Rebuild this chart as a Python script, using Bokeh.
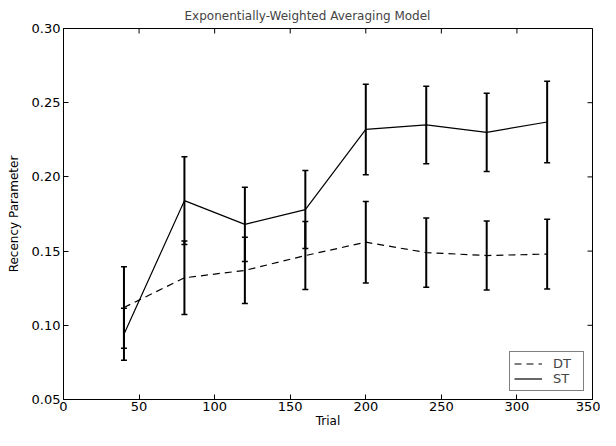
from bokeh.plotting import figure
from bokeh.models import (ColumnDataSource, Whisker, TeeHead, FixedTicker,
                          NumeralTickFormatter, Range1d, Legend, LegendItem)
from bokeh.embed import file_html
from bokeh.resources import INLINE
import math

trials = [40, 80, 120, 160, 200, 240, 280, 320]
dt_mean = [0.112, 0.132, 0.137, 0.147, 0.156, 0.149, 0.147, 0.148]
dt_err = [0.0275, 0.0248, 0.0223, 0.0229, 0.0275, 0.0233, 0.0232, 0.0235]
st_mean = [0.094, 0.184, 0.168, 0.178, 0.232, 0.235, 0.230, 0.237]
st_err = [0.0175, 0.0296, 0.025, 0.0263, 0.0305, 0.0261, 0.0263, 0.0275]
x_ticks = [0, 50, 100, 150, 200, 250, 300, 350]
y_ticks = [0.05, 0.10, 0.15, 0.20, 0.25, 0.30]
x_lim = (0, 350)
y_lim = (0.05, 0.30)

FONT = "DejaVu Sans"

dt_src = ColumnDataSource(dict(x=trials, y=dt_mean,
                               lo=[m - e for m, e in zip(dt_mean, dt_err)],
                               hi=[m + e for m, e in zip(dt_mean, dt_err)]))
st_src = ColumnDataSource(dict(x=trials, y=st_mean,
                               lo=[m - e for m, e in zip(st_mean, st_err)],
                               hi=[m + e for m, e in zip(st_mean, st_err)]))

p = figure(width=600, height=430, output_backend="svg", toolbar_location=None,
           x_range=Range1d(*x_lim), y_range=Range1d(*y_lim),
           min_border_left=63, min_border_right=8, min_border_top=28, min_border_bottom=0)

p.title.text = "Exponentially-Weighted Averaging Model"
p.title.text_font = FONT
p.title.text_font_size = "12px"
p.title.text_font_style = "normal"
p.title.align = "left"
p.title.offset = 121
p.title.standoff = 12

p.grid.visible = False
p.outline_line_color = "black"
p.outline_line_width = 1

p.xaxis.ticker = FixedTicker(ticks=x_ticks, minor_ticks=[])
p.yaxis.ticker = FixedTicker(ticks=y_ticks, minor_ticks=[])
p.yaxis.formatter = NumeralTickFormatter(format="0.00")
p.xaxis.axis_label = "Trial"
p.yaxis.axis_label = "Recency Parameter"

for ax in (p.xaxis[0], p.yaxis[0]):
    ax.major_tick_in = 5
    ax.major_tick_out = 0
    ax.minor_tick_in = 0
    ax.minor_tick_out = 0
    ax.axis_line_color = "black"
    ax.major_tick_line_color = "black"
    ax.major_label_text_font = FONT
    ax.major_label_text_font_size = "13px"
    ax.major_label_text_color = "black"
    ax.axis_label_text_font = FONT
    ax.axis_label_text_font_size = "12px"
    ax.axis_label_text_font_style = "normal"
    ax.axis_label_text_color = "black"
    ax.major_label_standoff = 2
    ax.axis_label_standoff = 0

p.yaxis[0].major_label_standoff = 3
p.yaxis[0].axis_label_standoff = 8

# inward ticks on top and right edges
p.scatter(x=x_ticks, y=[y_lim[1]] * len(x_ticks), marker="dash", angle=math.pi / 2,
          size=10, line_color="black", line_width=1)
p.scatter(x=[x_lim[1]] * len(y_ticks), y=y_ticks, marker="dash",
          size=10, line_color="black", line_width=1)

dt_line = p.line("x", "y", source=dt_src, line_color="black", line_width=1.2, line_dash="7 5")
st_line = p.line("x", "y", source=st_src, line_color="black", line_width=1.2)

for src in (dt_src, st_src):
    w = Whisker(base="x", lower="lo", upper="hi", source=src, dimension="height",
                line_color="black", line_width=2,
                lower_head=TeeHead(size=6, line_color="black", line_width=1.5),
                upper_head=TeeHead(size=6, line_color="black", line_width=1.5))
    p.add_layout(w)

legend = Legend(items=[LegendItem(label="DT", renderers=[dt_line]),
                       LegendItem(label="ST", renderers=[st_line])],
                location="bottom_right",
                label_text_font=FONT, label_text_font_size="13px",
                border_line_color="black", border_line_width=1,
                glyph_width=28, glyph_height=13, label_height=13, label_width=26,
                spacing=0, padding=4, margin=8, label_standoff=11,
                background_fill_alpha=1)
p.add_layout(legend)

open("out.html", "w").write(file_html(p, INLINE))
